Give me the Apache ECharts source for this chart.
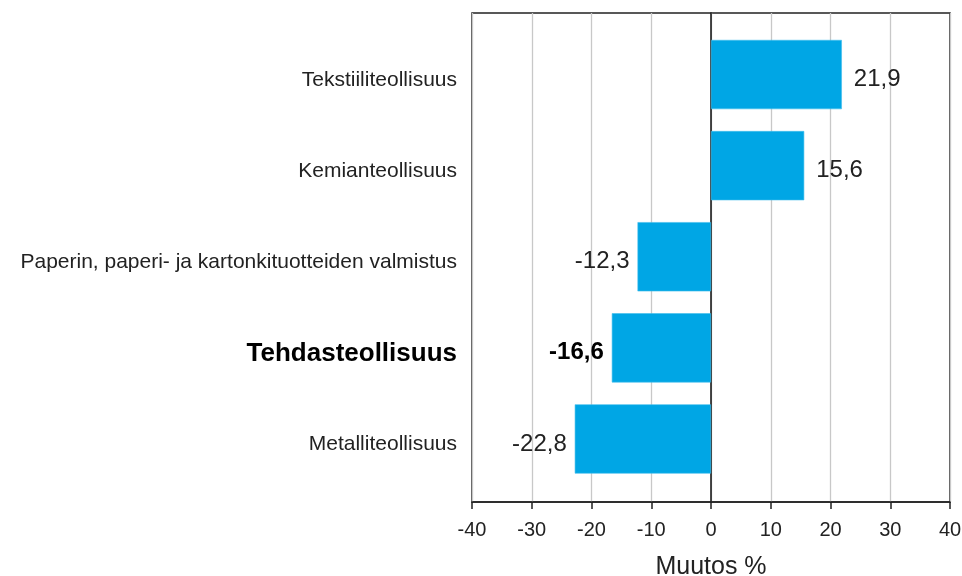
<!DOCTYPE html>
<html><head><meta charset="utf-8">
<script src="https://cdn.jsdelivr.net/npm/echarts@6/dist/echarts.min.js"></script>
<style>html,body{margin:0;padding:0;background:#fff}#c{width:962px;height:576px}</style>
</head><body><div id="c"></div>
<script>
const categories = ["Metalliteollisuus", "Tehdasteollisuus", "Paperin, paperi- ja kartonkituotteiden valmistus", "Kemianteollisuus", "Tekstiiliteollisuus"];
const values = [-22.8, -16.6, -12.3, 15.6, 21.9];
const boldCategory = "Tehdasteollisuus";
const xTicks = [-40, -30, -20, -10, 0, 10, 20, 30, 40];

const FONT = "Arial, 'Liberation Sans', sans-serif";
const fmt = v => v.toFixed(1).replace('.', ',');
const xMin = xTicks[0], xMax = xTicks[xTicks.length - 1];

const chart = echarts.init(document.getElementById('c'), null, {renderer: 'canvas'});
chart.setOption({
  animation: false,
  grid: [
    {left: 472, right: 12, top: 13, bottom: 74, show: true, borderColor: '#222', borderWidth: 1.5, containLabel: false, outerBoundsMode: 'none'},
    {left: 472, right: 12, top: 29, bottom: 91.5, containLabel: false, outerBoundsMode: 'none'}
  ],
  xAxis: [{
    gridIndex: 0, type: 'value', min: xMin, max: xMax, interval: 10,
    name: 'Muutos %', nameLocation: 'middle', nameGap: 53,
    nameTextStyle: {fontFamily: FONT, fontSize: 25, color: '#222'},
    axisLine: {show: true, onZero: false, lineStyle: {color: '#222', width: 1.5}},
    axisTick: {show: true, length: 7, lineStyle: {color: '#222', width: 1.5}},
    axisLabel: {fontFamily: FONT, fontSize: 20, color: '#222', margin: 18},
    splitLine: {show: true, lineStyle: {color: '#c8c8c8', width: 1.3}}
  }, {
    gridIndex: 1, type: 'value', min: xMin, max: xMax, interval: 10, show: false,
    splitLine: {show: false}
  }],
  yAxis: [{
    gridIndex: 0, type: 'value', min: 0, max: 1,
    axisLine: {show: true, onZero: true, lineStyle: {color: '#111', width: 1.5}},
    axisTick: {show: false}, axisLabel: {show: false}, splitLine: {show: false}
  }, {
    gridIndex: 1, type: 'category', data: categories,
    axisLine: {show: false}, axisTick: {show: false}, splitLine: {show: false},
    axisLabel: {
      fontFamily: FONT, fontSize: 21, color: '#222', margin: 15,
      padding: [11, 0, 0, 0],
      formatter: v => v === boldCategory ? '{b|' + v + '}' : v,
      rich: {b: {fontFamily: FONT, fontSize: 26, fontWeight: 'bold', color: '#000'}}
    }
  }],
  series: [{
    type: 'bar', xAxisIndex: 1, yAxisIndex: 1,
    data: values.map((v, i) => ({
      value: v,
      label: {
        position: v >= 0 ? 'right' : 'left',
        distance: v >= 0 ? 12 : 8,
        fontWeight: categories[i] === boldCategory ? 'bold' : 'normal',
        color: categories[i] === boldCategory ? '#000' : '#222'
      }
    })),
    barCategoryGap: '24%',
    itemStyle: {color: '#00a6e5', borderColor: '#40bdec', borderWidth: 0.6},
    label: {
      show: true,
      fontFamily: FONT, fontSize: 24, color: '#222',
      offset: [0, 5],
      formatter: p => fmt(p.value)
    }
  }]
});
</script></body></html>
